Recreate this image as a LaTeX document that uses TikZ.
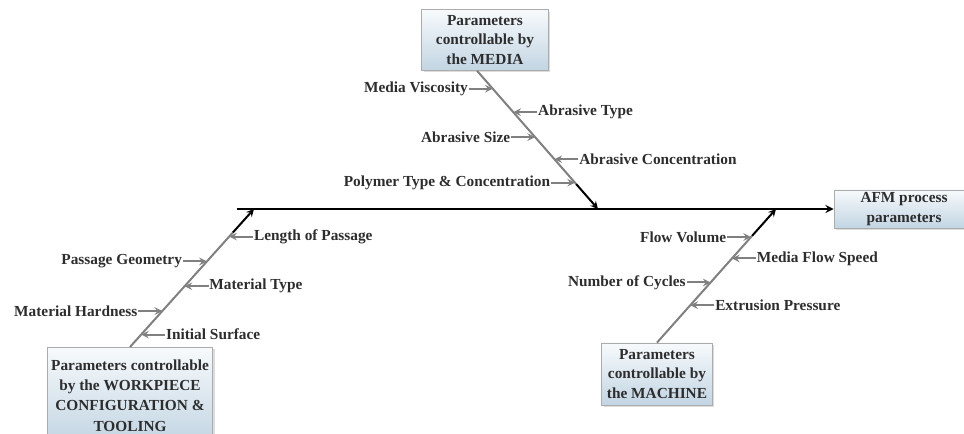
\documentclass[tikz,border=0pt]{standalone}
\usepackage{fontspec}
\setmainfont{Liberation Serif}
\usepackage{tikz}
\usetikzlibrary{positioning, calc, arrows, shadows}
\usepackage{xcolor}

\definecolor{bonegray}{RGB}{128,128,128}
\definecolor{boxtop}{RGB}{247,250,252}
\definecolor{boxbottom}{RGB}{194,213,227}
\definecolor{ink}{RGB}{45,45,45}

\tikzset{
  causebox/.style={draw=gray!65, line width=0.6pt, top color=boxtop, bottom color=boxbottom,
    align=center, text=ink, inner sep=2pt,
    font=\bfseries\fontsize{11.5}{14.5}\selectfont,
    drop shadow={shadow xshift=1.5pt, shadow yshift=-1.5pt, fill=gray!55}},
  lbl/.style={font=\bfseries\fontsize{11.5}{13}\selectfont, text=ink, inner sep=0.5pt},
  bone/.style={draw=bonegray, line width=1.5pt},
  sub/.style={draw=bonegray, line width=1.5pt, -stealth},
  tip/.style={draw=black, line width=1.5pt, -stealth}
}

\begin{document}
\begin{tikzpicture}[x=0.75pt, y=-0.75pt, node distance=18pt]
  \useasboundingbox (0,0) rectangle (964,434);

  \node[causebox, minimum width=105pt, minimum height=28.5pt] (afm) at (904,209) {AFM process\\parameters};
  \node[causebox, minimum width=95pt, minimum height=45.5pt] (media) at (485,40) {Parameters\\controllable by\\the MEDIA};
  \node[causebox, minimum width=124pt, minimum height=72pt, anchor=north, inner sep=1pt,
        font=\bfseries\fontsize{11.5}{15.3}\selectfont] (work) at (130,347)
        {Parameters controllable\\by the WORKPIECE\\CONFIGURATION \&\\TOOLING};
  \node[causebox, minimum width=83pt, minimum height=46.5pt] (mach) at (657,374) {Parameters\\controllable by\\the MACHINE};

  \coordinate (tail) at (237,209);
  \coordinate (mj) at (598,209);
  \coordinate (wj) at (254,209);
  \coordinate (cj) at (776,209);
  \coordinate (mt) at ($(media.south)+(-8,0)$);

  \draw[tip, line width=1.7pt] (tail) -- (afm.west);

  \draw[bone] (mt) -- ($(mt)!0.82!(mj)$) coordinate (mk);
  \draw[tip] (mk) -- (mj);
  \draw[bone] (work.north) -- ($(work.north)!0.83!(wj)$) coordinate (wk);
  \draw[tip] (wk) -- (wj);
  \draw[bone] (mach.north) -- ($(mach.north)!0.80!(cj)$) coordinate (ck);
  \draw[tip] (ck) -- (cj);

  \coordinate (m1) at ($(mt)!0.13!(mj)$);
  \coordinate (m2) at ($(mt)!0.30!(mj)$);
  \coordinate (m3) at ($(mt)!0.48!(mj)$);
  \coordinate (m4) at ($(mt)!0.64!(mj)$);
  \coordinate (m5) at ($(mt)!0.81!(mj)$);

  \node[lbl, left=of m1] (visc) {Media Viscosity};
  \node[lbl, right=of m2] (atype) {Abrasive Type};
  \node[lbl, left=of m3] (asize) {Abrasive Size};
  \node[lbl, right=of m4] (aconc) {Abrasive Concentration};
  \node[lbl, left=of m5] (poly) {Polymer Type \& Concentration};

  \draw[sub] (visc) -- (m1);
  \draw[sub] (atype) -- (m2);
  \draw[sub] (asize) -- (m3);
  \draw[sub] (aconc) -- (m4);
  \draw[sub] (poly) -- (m5);

  \coordinate (w1) at ($(work.north)!0.80!(wj)$);
  \coordinate (w2) at ($(work.north)!0.62!(wj)$);
  \coordinate (w3) at ($(work.north)!0.44!(wj)$);
  \coordinate (w4) at ($(work.north)!0.26!(wj)$);
  \coordinate (w5) at ($(work.north)!0.09!(wj)$);

  \node[lbl, right=of w1] (length) {Length of Passage};
  \node[lbl, left=of w2] (geom) {Passage Geometry};
  \node[lbl, right=of w3] (mtype) {Material Type};
  \node[lbl, left=of w4] (hard) {Material Hardness};
  \node[lbl, right=of w5] (surf) {Initial Surface};

  \draw[sub] (length) -- (w1);
  \draw[sub] (geom) -- (w2);
  \draw[sub] (mtype) -- (w3);
  \draw[sub] (hard) -- (w4);
  \draw[sub] (surf) -- (w5);

  \coordinate (c1) at ($(mach.north)!0.79!(cj)$);
  \coordinate (c2) at ($(mach.north)!0.63!(cj)$);
  \coordinate (c3) at ($(mach.north)!0.45!(cj)$);
  \coordinate (c4) at ($(mach.north)!0.28!(cj)$);

  \node[lbl, left=of c1] (vol) {Flow Volume};
  \node[lbl, right=of c2] (speed) {Media Flow Speed};
  \node[lbl, left=of c3] (cycles) {Number of Cycles};
  \node[lbl, right=of c4] (press) {Extrusion Pressure};

  \draw[sub] (vol) -- (c1);
  \draw[sub] (speed) -- (c2);
  \draw[sub] (cycles) -- (c3);
  \draw[sub] (press) -- (c4);
\end{tikzpicture}
\end{document}
